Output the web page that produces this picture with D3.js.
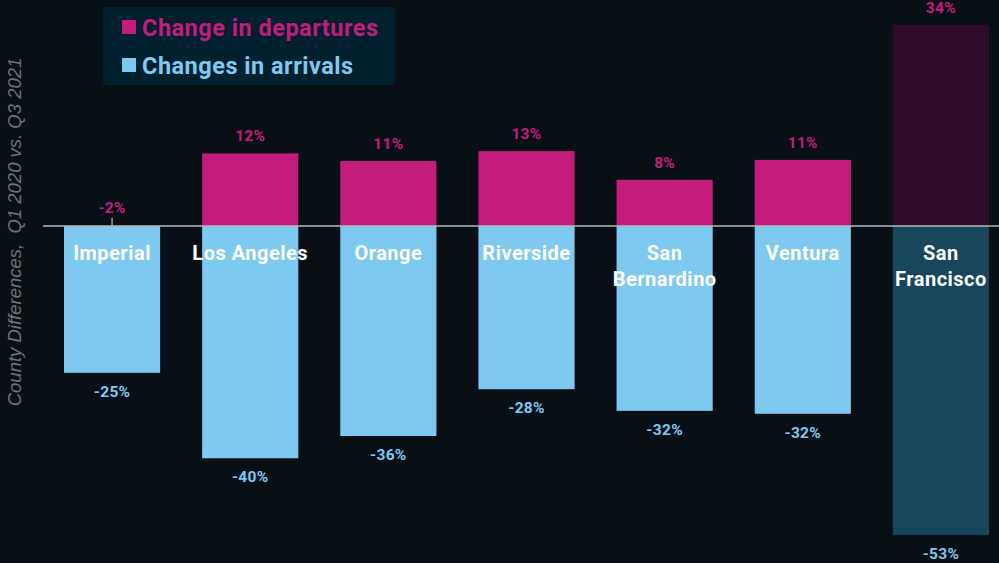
<!DOCTYPE html>
<html><head><meta charset="utf-8">
<script src="https://cdn.jsdelivr.net/npm/d3@7/dist/d3.min.js"></script>
<style>body{margin:0;background:#081016;}svg{display:block;}</style>
</head><body><svg id="c" width="999" height="563"></svg>
<script>
const counties = ["Imperial", "Los Angeles", "Orange", "Riverside", "San Bernardino", "Ventura", "San Francisco"];
const countyLines = [["Imperial"], ["Los Angeles"], ["Orange"], ["Riverside"], ["San", "Bernardino"], ["Ventura"], ["San", "Francisco"]];
const departures = [-2, 12.4, 11.1, 12.8, 7.9, 11.3, 34.4];
const arrivals = [-25.1, -39.7, -35.9, -27.9, -31.6, -32.1, -52.8];
const highlighted = [false, false, false, false, false, false, true];
const legendLabels = ["Change in departures", "Changes in arrivals"];
const axisTitle = "County Differences,  Q1 2020 vs. Q3 2021";

const W = 999, H = 563;
const font = "Roboto, 'Liberation Sans', sans-serif";
const pink = "#c41c7c", blue = "#7ec9f0";
const pinkDim = "#300c2c", blueDim = "#17465d";
const svg = d3.select("#c");
svg.append("rect").attr("width", W).attr("height", H).attr("fill", "#081016");

const fmt = v => Math.round(v) + "%";

const x = d3.scaleBand().domain(counties).range([43, 1010]).paddingInner(0.304).paddingOuter(0.152);
const y = d3.scaleLinear().domain([-53, 34]).range([226 + 53 * 5.85, 226 - 34 * 5.85]);

const g = svg.append("g");
counties.forEach((c, i) => {
  const d = departures[i];
  const cx = x(c) + x.bandwidth() / 2;
  if (d >= 0) {
    g.append("rect").attr("x", x(c)).attr("width", x.bandwidth())
      .attr("y", y(d)).attr("height", y(0) - y(d))
      .attr("fill", highlighted[i] ? pinkDim : pink);
  } else {
    g.append("line").attr("x1", cx).attr("x2", cx).attr("y1", y(0)).attr("y2", y(0) - 8)
      .attr("stroke", "#9aa0a6").attr("stroke-width", 1.5);
  }
  const a = arrivals[i];
  g.append("rect").attr("x", x(c)).attr("width", x.bandwidth())
    .attr("y", y(0)).attr("height", y(a) - y(0))
    .attr("fill", highlighted[i] ? blueDim : blue);
  const labY = d >= 0 ? y(d) - 12 : y(0) - 13;
  g.append("text").attr("x", cx).attr("y", labY).attr("text-anchor", "middle")
    .attr("font-family", font).attr("font-weight", 700).attr("font-size", 15.5)
    .attr("letter-spacing", 0.3)
    .attr("fill", pink).text(fmt(d));
  g.append("text").attr("x", cx).attr("y", y(a) + 24).attr("text-anchor", "middle")
    .attr("font-family", font).attr("font-weight", 700).attr("font-size", 15.5)
    .attr("letter-spacing", 0.3)
    .attr("fill", blue).text(fmt(a));
  countyLines[i].forEach((ln, k) => {
    g.append("text").attr("x", cx).attr("y", 260 + k * 26).attr("text-anchor", "middle")
      .attr("font-family", font).attr("font-weight", 700).attr("font-size", 20)
      .attr("letter-spacing", 0.5)
      .attr("fill", "#ffffff").text(ln);
  });
});

svg.append("line").attr("x1", 43).attr("x2", W).attr("y1", y(0)).attr("y2", y(0))
  .attr("stroke", "#b4b8bc").attr("stroke-width", 1.5);

svg.append("text").attr("transform", `translate(21,232) rotate(-90)`)
  .attr("text-anchor", "middle").attr("font-family", "'Liberation Sans', Arial, sans-serif").attr("font-style", "italic")
  .attr("font-size", 18.5).attr("fill", "#6f747a")
  .style("white-space", "pre").text(axisTitle);

const lg = svg.append("g");
lg.append("rect").attr("x", 103).attr("y", 7).attr("width", 292).attr("height", 78).attr("fill", "#01202e");
[pink, blue].forEach((col, i) => {
  lg.append("rect").attr("x", 122).attr("y", 20 + i * 38).attr("width", 14).attr("height", 14).attr("fill", col);
  lg.append("text").attr("x", 142).attr("y", 36 + i * 38).attr("font-family", font)
    .attr("font-weight", 700).attr("font-size", 23.5).attr("letter-spacing", 0.5)
    .attr("fill", col).text(legendLabels[i]);
});
</script></body></html>
